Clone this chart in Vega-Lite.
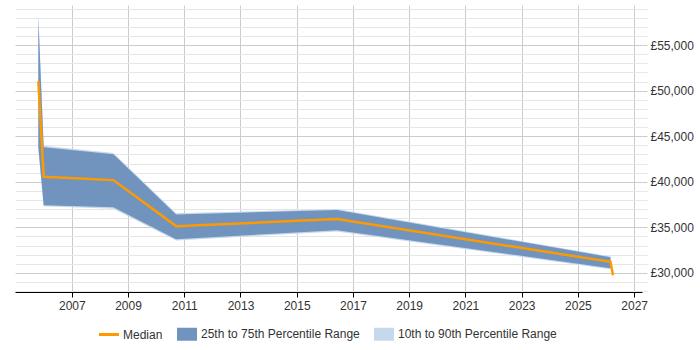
{
  "$schema": "https://vega.github.io/schema/vega-lite/v6.json",
  "width": 627,
  "height": 287,
  "autosize": {"type": "none"},
  "padding": {"left": 15, "top": 5, "right": 58, "bottom": 58},
  "config": {
    "view": {"stroke": null},
    "font": "Liberation Sans",
    "axis": {"labelFont": "Liberation Sans", "labelFontSize": 12, "labelColor": "#333333"},
    "legend": {"labelFont": "Liberation Sans", "labelFontSize": 12, "labelColor": "#333333"}
  },
  "data": {
    "values": [
      {"year": 2005.81, "median": 51050, "p25": 43800, "p75": 57970, "p10": 43600, "p90": 58500},
      {"year": 2006.0, "median": 40540, "p25": 37430, "p75": 43800, "p10": 37300, "p90": 43950},
      {"year": 2008.48, "median": 40180, "p25": 37210, "p75": 43030, "p10": 37050, "p90": 43150},
      {"year": 2010.71, "median": 35130, "p25": 33700, "p75": 36410, "p10": 33550, "p90": 36550},
      {"year": 2016.43, "median": 35900, "p25": 34690, "p75": 36890, "p10": 34550, "p90": 37000},
      {"year": 2026.16, "median": 31210, "p25": 30520, "p75": 31720, "p10": 30400, "p90": 31800},
      {"year": 2026.25, "median": 29750}
    ]
  },
  "encoding": {
    "x": {
      "field": "year",
      "type": "quantitative",
      "scale": {"domain": [2004.98, 2027.28], "nice": false, "zero": false},
      "axis": {
        "title": null,
        "values": [2007, 2009, 2011, 2013, 2015, 2017, 2019, 2021, 2023, 2025, 2027],
        "format": "d",
        "labelOverlap": false,
        "grid": true,
        "gridColor": "#cccccc",
        "domainColor": "#000000",
        "tickColor": "#000000",
        "tickSize": 5,
        "labelPadding": 3
      }
    }
  },
  "layer": [
    {
      "mark": {"type": "area", "opacity": 1},
      "encoding": {
        "y": {
          "field": "p10",
          "type": "quantitative",
          "scale": {"domain": [27900, 59400], "nice": false, "zero": false},
          "axis": {
            "title": null,
            "orient": "right",
            "values": [28000, 29000, 30000, 31000, 32000, 33000, 34000, 35000, 36000, 37000, 38000, 39000, 40000, 41000, 42000, 43000, 44000, 45000, 46000, 47000, 48000, 49000, 50000, 51000, 52000, 53000, 54000, 55000, 56000, 57000, 58000, 59000],
            "labelExpr": "datum.value % 5000 === 0 ? '£' + format(datum.value, ',') : ''",
            "labelOverlap": false,
            "grid": true,
            "gridColor": {"condition": {"test": "datum.value % 5000 === 0", "value": "#cccccc"}, "value": "#e6e6e6"},
            "tickColor": {"condition": {"test": "datum.value % 5000 === 0", "value": "#cccccc"}, "value": "#e6e6e6"},
            "tickSize": 5,
            "domain": false,
            "labelPadding": 3
          }
        },
        "y2": {"field": "p90"},
        "color": {"datum": "10th to 90th Percentile Range"}
      }
    },
    {
      "mark": {"type": "area"},
      "encoding": {
        "y": {
          "field": "p25",
          "type": "quantitative",
          "axis": {
            "title": null,
            "orient": "right",
            "values": [28000, 29000, 30000, 31000, 32000, 33000, 34000, 35000, 36000, 37000, 38000, 39000, 40000, 41000, 42000, 43000, 44000, 45000, 46000, 47000, 48000, 49000, 50000, 51000, 52000, 53000, 54000, 55000, 56000, 57000, 58000, 59000],
            "labelExpr": "datum.value % 5000 === 0 ? '£' + format(datum.value, ',') : ''",
            "labelOverlap": false,
            "grid": true,
            "gridColor": {"condition": {"test": "datum.value % 5000 === 0", "value": "#cccccc"}, "value": "#e6e6e6"},
            "tickColor": {"condition": {"test": "datum.value % 5000 === 0", "value": "#cccccc"}, "value": "#e6e6e6"},
            "tickSize": 5,
            "domain": false,
            "labelPadding": 3
          }
        },
        "y2": {"field": "p75"},
        "color": {"datum": "25th to 75th Percentile Range"}
      }
    },
    {
      "mark": {"type": "line", "strokeWidth": 2.5},
      "encoding": {
        "y": {
          "field": "median",
          "type": "quantitative",
          "axis": {
            "title": null,
            "orient": "right",
            "values": [28000, 29000, 30000, 31000, 32000, 33000, 34000, 35000, 36000, 37000, 38000, 39000, 40000, 41000, 42000, 43000, 44000, 45000, 46000, 47000, 48000, 49000, 50000, 51000, 52000, 53000, 54000, 55000, 56000, 57000, 58000, 59000],
            "labelExpr": "datum.value % 5000 === 0 ? '£' + format(datum.value, ',') : ''",
            "labelOverlap": false,
            "grid": true,
            "gridColor": {"condition": {"test": "datum.value % 5000 === 0", "value": "#cccccc"}, "value": "#e6e6e6"},
            "tickColor": {"condition": {"test": "datum.value % 5000 === 0", "value": "#cccccc"}, "value": "#e6e6e6"},
            "tickSize": 5,
            "domain": false,
            "labelPadding": 3
          }
        },
        "color": {
          "datum": "Median",
          "scale": {
            "domain": ["Median", "25th to 75th Percentile Range", "10th to 90th Percentile Range"],
            "range": ["#ff9900", "#7094be", "#c6d8ec"]
          },
          "legend": {
            "title": null,
            "orient": "none",
            "direction": "horizontal",
            "legendX": 88,
            "legendY": 323,
            "symbolSize": 400,
            "labelOffset": 8,
            "columnPadding": 14,
            "encode": {
              "symbols": {
                "update": {
                  "shape": {"signal": "datum.value === 'Median' ? 'stroke' : 'M-1,-0.65H1V0.65H-1Z'"},
                  "fill": {"signal": "datum.value === 'Median' ? 'transparent' : (datum.value === '10th to 90th Percentile Range' ? '#cddcee' : '#86a4c8')"},
                  "stroke": {"signal": "datum.value === 'Median' ? '#ff9900' : 'transparent'"},
                  "strokeWidth": {"signal": "datum.value === 'Median' ? 3 : 0"},
                  "opacity": {"value": 1}
                }
              }
            }
          }
        }
      }
    }
  ]
}
